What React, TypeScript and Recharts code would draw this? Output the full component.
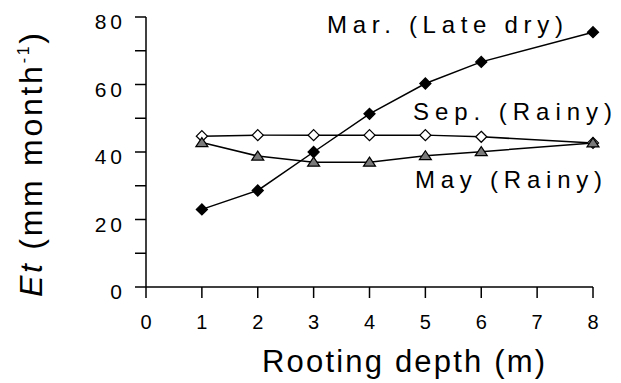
import { LineChart, Line, XAxis, YAxis } from 'recharts';

const depths = [1, 2, 3, 4, 5, 6, 8];
const etMar = [23.0, 28.6, 40.0, 51.3, 60.3, 66.7, 75.5];
const etSep = [44.7, 45.0, 45.0, 45.0, 45.0, 44.5, 42.7];
const etMay = [42.8, 38.8, 37.0, 37.0, 38.9, 40.1, 42.7];

const xTicks = [0, 1, 2, 3, 4, 5, 6, 7, 8];
const yTicks = [0, 10, 20, 30, 40, 50, 60, 70, 80];

const seriesLabels = ['Mar. (Late dry)', 'Sep. (Rainy)', 'May (Rainy)'];

const data = depths.map((d, i) => ({ depth: d, mar: etMar[i], sep: etSep[i], may: etMay[i] }));

const FONT = '"Liberation Sans", Arial, sans-serif';

const Diamond = (fill: string) => (props: any) => {
  const { cx, cy, index } = props;
  if (cx == null || cy == null) return <g key={index} />;
  const r = 5.5;
  return (
    <polygon
      key={index}
      points={`${cx},${cy - r} ${cx + r},${cy} ${cx},${cy + r} ${cx - r},${cy}`}
      fill={fill}
      stroke="#000"
      strokeWidth={1.3}
    />
  );
};

const Triangle = (props: any) => {
  const { cx, cy, index } = props;
  if (cx == null || cy == null) return <g key={index} />;
  return (
    <polygon
      key={index}
      points={`${cx},${cy - 5} ${cx + 6},${cy + 4} ${cx - 6},${cy + 4}`}
      fill="#7a7a7a"
      stroke="#000"
      strokeWidth={1.2}
    />
  );
};

const YTick = (props: any) => {
  const { x, y, payload } = props;
  if (payload.value % 20 !== 0) return <g />;
  return (
    <text x={x + 4} y={y + 5} dy="0.355em" textAnchor="end" fontSize={21} letterSpacing={4} fill="#000" fontFamily={FONT}>
      {payload.value}
    </text>
  );
};

export default function App() {
  return (
    <div style={{ position: 'absolute', left: 0, top: 0, width: 621, height: 383, background: '#fff' }}>
      <LineChart width={621} height={383} data={data} margin={{ top: 17, right: 28, left: 0, bottom: 0 }}>
        <XAxis
          type="number"
          dataKey="depth"
          domain={[0, 8]}
          ticks={xTicks}
          tickSize={11}
          tickMargin={17}
          height={96}
          stroke="#000"
          strokeWidth={1.5}
          tick={{ fill: '#000', fontSize: 20, fontFamily: FONT }}
        />
        <YAxis
          type="number"
          domain={[0, 80]}
          ticks={yTicks}
          tickSize={11}
          tickMargin={13}
          width={146}
          stroke="#000"
          strokeWidth={1.5}
          tick={<YTick />}
        />
        <Line dataKey="mar" stroke="#000" strokeWidth={1.5} dot={Diamond('#000')} isAnimationActive={false} />
        <Line dataKey="sep" stroke="#000" strokeWidth={1.5} dot={Diamond('#fff')} isAnimationActive={false} />
        <Line dataKey="may" stroke="#000" strokeWidth={1.5} dot={Triangle} isAnimationActive={false} />
      </LineChart>
      <svg width={621} height={383} style={{ position: 'absolute', left: 0, top: 0, pointerEvents: 'none' }} fontFamily={FONT}>
        <text x={327} y={33} fontSize={24} textLength={236} lengthAdjust="spacing" fill="#000">{seriesLabels[0]}</text>
        <text x={413} y={120} fontSize={24} textLength={199} lengthAdjust="spacing" fill="#000">{seriesLabels[1]}</text>
        <text x={415} y={188} fontSize={24} textLength={187} lengthAdjust="spacing" fill="#000">{seriesLabels[2]}</text>
        <text x={262} y={372} fontSize={31} textLength={283} lengthAdjust="spacing" fill="#000">Rooting depth (m)</text>
        <text transform="translate(42,297) rotate(-90)" fontSize={32} textLength={264} lengthAdjust="spacing" fill="#000">
          <tspan fontStyle="italic">Et</tspan>
          <tspan> (mm month</tspan>
          <tspan fontSize={16} dy={-13}>-1</tspan>
          <tspan dy={13}>)</tspan>
        </text>
      </svg>
    </div>
  );
}
